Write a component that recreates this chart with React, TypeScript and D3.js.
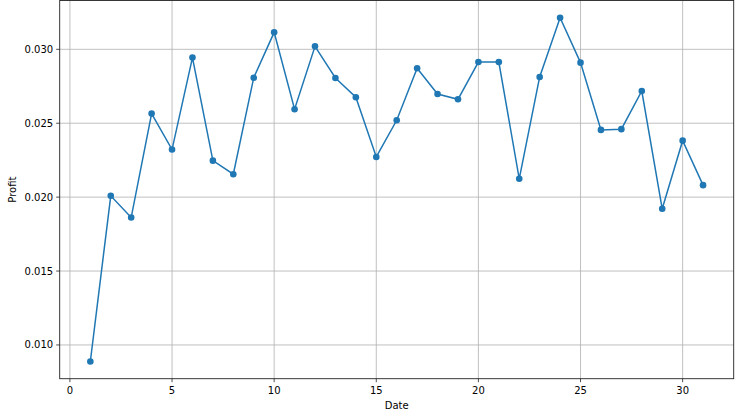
import React from "react";
import * as d3 from "d3";

const dates: number[] = Array.from({ length: 31 }, (_, i) => i + 1);
const profit: number[] = [
  0.00888, 0.02009, 0.01862, 0.02565, 0.02322, 0.02944, 0.02247, 0.02155, 0.02808, 0.03115,
  0.02595, 0.0302, 0.02806, 0.02676, 0.02272, 0.0252, 0.02872, 0.02698, 0.02662, 0.02914,
  0.02914, 0.02124, 0.02813, 0.03214, 0.0291, 0.02455, 0.0246, 0.02718, 0.01921, 0.02382,
  0.02081,
];
const xTicks: number[] = [0, 5, 10, 15, 20, 25, 30];
const yTicks: number[] = [0.01, 0.015, 0.02, 0.025, 0.03];

export default function App() {
  const W = 740, H = 418;
  const left = 59.7, right = 733.7, top = 0.5, bottom = 378.7;
  const minY = d3.min(profit)!, maxY = d3.max(profit)!;
  const pad = (maxY - minY) * 0.05;
  const x = d3.scaleLinear().domain([-0.5, 32.5]).range([left, right]);
  const y = d3.scaleLinear().domain([minY - pad, maxY + pad]).range([bottom, top]);
  const line = d3.line<number>().x((_, i) => x(dates[i])).y((d) => y(d));
  const font = "DejaVu Sans, sans-serif";
  return (
    <svg width={W} height={H} style={{ position: "absolute", left: 0, top: 0 }} fontFamily={font}>
      <rect width={W} height={H} fill="#fff" />
      {xTicks.map((t) => (
        <line key={"gx" + t} x1={x(t)} x2={x(t)} y1={top} y2={bottom} stroke="#b0b0b0" strokeWidth={0.8} />
      ))}
      {yTicks.map((t) => (
        <line key={"gy" + t} x1={left} x2={right} y1={y(t)} y2={y(t)} stroke="#b0b0b0" strokeWidth={0.8} />
      ))}
      <path d={line(profit) || ""} fill="none" stroke="#1f77b4" strokeWidth={1.5} />
      {profit.map((v, i) => (
        <circle key={i} cx={x(dates[i])} cy={y(v)} r={3.3} fill="#1f77b4" />
      ))}
      <rect x={left} y={top} width={right - left} height={bottom - top} fill="none" stroke="#222" strokeWidth={0.9} />
      {xTicks.map((t) => (
        <g key={"tx" + t}>
          <line x1={x(t)} x2={x(t)} y1={bottom} y2={bottom + 3.5} stroke="#222" strokeWidth={0.8} />
          <text x={x(t)} y={bottom + 15.5} fontSize={10} textAnchor="middle" fill="#000">{t}</text>
        </g>
      ))}
      {yTicks.map((t) => (
        <g key={"ty" + t}>
          <line x1={left - 3.5} x2={left} y1={y(t)} y2={y(t)} stroke="#222" strokeWidth={0.8} />
          <text x={left - 6.5} y={y(t)} dy="0.35em" fontSize={10} textAnchor="end" fill="#000">{t.toFixed(3)}</text>
        </g>
      ))}
      <text x={(left + right) / 2} y={409} fontSize={10} textAnchor="middle" fill="#000">Date</text>
      <text transform={`translate(16,${(top + bottom) / 2}) rotate(-90)`} fontSize={10} textAnchor="middle" fill="#000">Profit</text>
    </svg>
  );
}
